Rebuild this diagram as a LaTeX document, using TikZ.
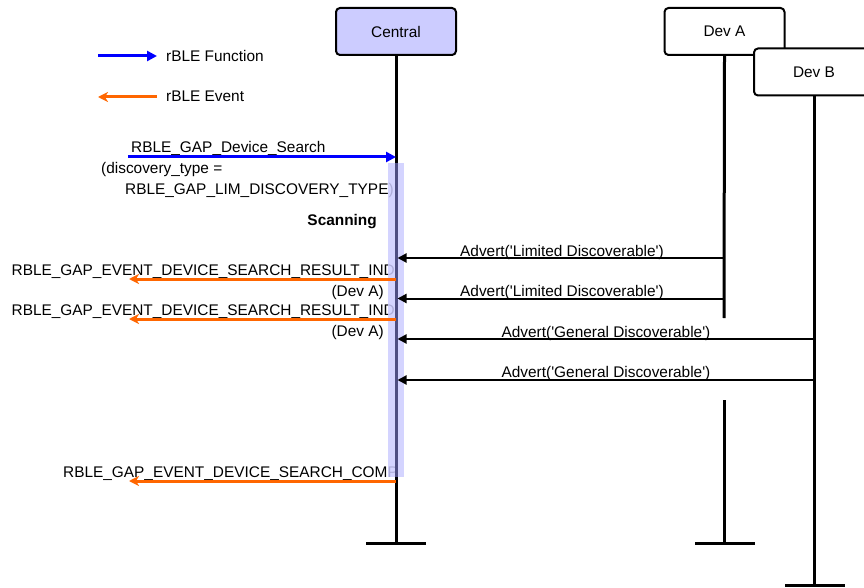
\documentclass[tikz,border=0pt]{standalone}
\usepackage{fontspec}
\setmainfont{Liberation Sans}[Ligatures=TeXOff]
\usetikzlibrary{arrows.meta}
\definecolor{lav}{HTML}{CCCCFF}
\definecolor{fblue}{HTML}{0000FF}
\definecolor{eorange}{HTML}{FF6600}
\definecolor{barline}{HTML}{4E4E82}
\begin{document}
\begin{tikzpicture}[x=1pt,y=-1pt,
  font=\fontsize{15.4}{18}\selectfont,
  actor/.style={draw, line width=2pt, rounded corners=4pt, minimum width=120pt, minimum height=47pt, inner sep=0pt, fill=white},
  life/.style={line width=3pt},
  capline/.style={line width=3pt},
  func/.style={draw=fblue, line width=3pt, -{Triangle[length=10pt,width=10pt]}},
  evt/.style={draw=eorange, line width=3pt, -{Stealth[length=10pt,width=10pt,inset=3pt]}},
  msg/.style={line width=2pt, -{Triangle[length=9pt,width=9pt]}},
  lbl/.style={inner sep=0pt},
  actbar/.style={fill=lav, fill opacity=0.85}
]
\useasboundingbox (0,0) rectangle (864,588);
\clip (0,0) rectangle (864,588);

% lifeline coordinates
\coordinate (cEnd) at (396,543);
\coordinate (aStop) at (724,318);
\coordinate (aRes) at (724,400);
\coordinate (aEnd) at (724,543);
\coordinate (bEnd) at (814,585);

% actors
\node[actor, fill=lav] (central) at (396,31.5) {Central};
\node[actor] (devA) at (724.5,31.5) {Dev A};

\draw[life] (central.south) -- (cEnd);
\draw[life] (devA.south) -- (aStop);
\draw[life] (aRes) -- (aEnd);
\draw[capline] (366,543) -- (426,543);
\draw[capline] (695,543) -- (755,543);
\draw[capline] (785,585) -- (845,585);

\node[actor] (devB) at (814,72) {Dev B};
\draw[life] (devB.south) -- (bEnd);

% legend
\coordinate (lfA) at (98,56);
\coordinate (lfB) at (157,56);
\coordinate (leA) at (157,97);
\coordinate (leB) at (98,97);
\draw[func] (lfA) -- (lfB);
\draw[evt] (leA) -- (leB);
\node[lbl, anchor=base west] (lgf) at (166,61.5) {rBLE Function};
\node[lbl, anchor=base west] (lge) at (166,102) {rBLE Event};

% texts
\node[lbl, anchor=base west] (t1) at (131,153) {RBLE\_GAP\_Device\_Search};
\node[lbl, anchor=base west] (t2) at (101,174) {(discovery\_type =};
\node[lbl, anchor=base west] (t3) at (125,195) {RBLE\_GAP\_LIM\_DISCOVERY\_TYPE)};
\node[lbl, anchor=base east, font=\fontsize{15.4}{18}\selectfont\bfseries] (scan) at (377,225) {Scanning};
\node[lbl, anchor=base east] (r1) at (395,275) {RBLE\_GAP\_EVENT\_DEVICE\_SEARCH\_RESULT\_IND};
\node[lbl, anchor=base east] (d1) at (384,296) {(Dev A)};
\node[lbl, anchor=base east] (r2) at (395,315) {RBLE\_GAP\_EVENT\_DEVICE\_SEARCH\_RESULT\_IND};
\node[lbl, anchor=base east] (d2) at (384,336) {(Dev A)};
\node[lbl, anchor=base east] (cmp) at (398,477) {RBLE\_GAP\_EVENT\_DEVICE\_SEARCH\_COMP};
\node[lbl, anchor=base] (m1) at (562,256) {Advert('Limited Discoverable')};
\node[lbl, anchor=base] (m2) at (562,296) {Advert('Limited Discoverable')};
\node[lbl, anchor=base] (m3) at (606,337) {Advert('General Discoverable')};
\node[lbl, anchor=base] (m4) at (606,377) {Advert('General Discoverable')};

% activation bar
\coordinate (barTop) at (396,163);
\coordinate (barBot) at (396,477);
\fill[actbar] (388,163) rectangle (404,477);
\draw[life, barline] (barTop) -- (barBot);

% message coordinates
\coordinate (fS) at (128,157);
\coordinate (fE) at (396,157);
\coordinate (e1S) at (396,279);
\coordinate (e1E) at (129,279);
\coordinate (e2S) at (396,319);
\coordinate (e2E) at (129,319);
\coordinate (e3S) at (396,481);
\coordinate (e3E) at (129,481);
\coordinate (a1) at (724,258);
\coordinate (a1c) at (397.5,258);
\coordinate (a2) at (724,298.5);
\coordinate (a2c) at (397.5,298.5);
\coordinate (b1) at (814,339);
\coordinate (b1c) at (397.5,339);
\coordinate (b2) at (814,380);
\coordinate (b2c) at (397.5,380);

\draw[func] (fS) -- (fE);
\draw[evt] (e1S) -- (e1E);
\draw[evt] (e2S) -- (e2E);
\draw[evt] (e3S) -- (e3E);
\draw[msg] (a1) -- (a1c);
\draw[msg] (a2) -- (a2c);
\draw[msg] (b1) -- (b1c);
\draw[msg] (b2) -- (b2c);
\end{tikzpicture}
\end{document}
